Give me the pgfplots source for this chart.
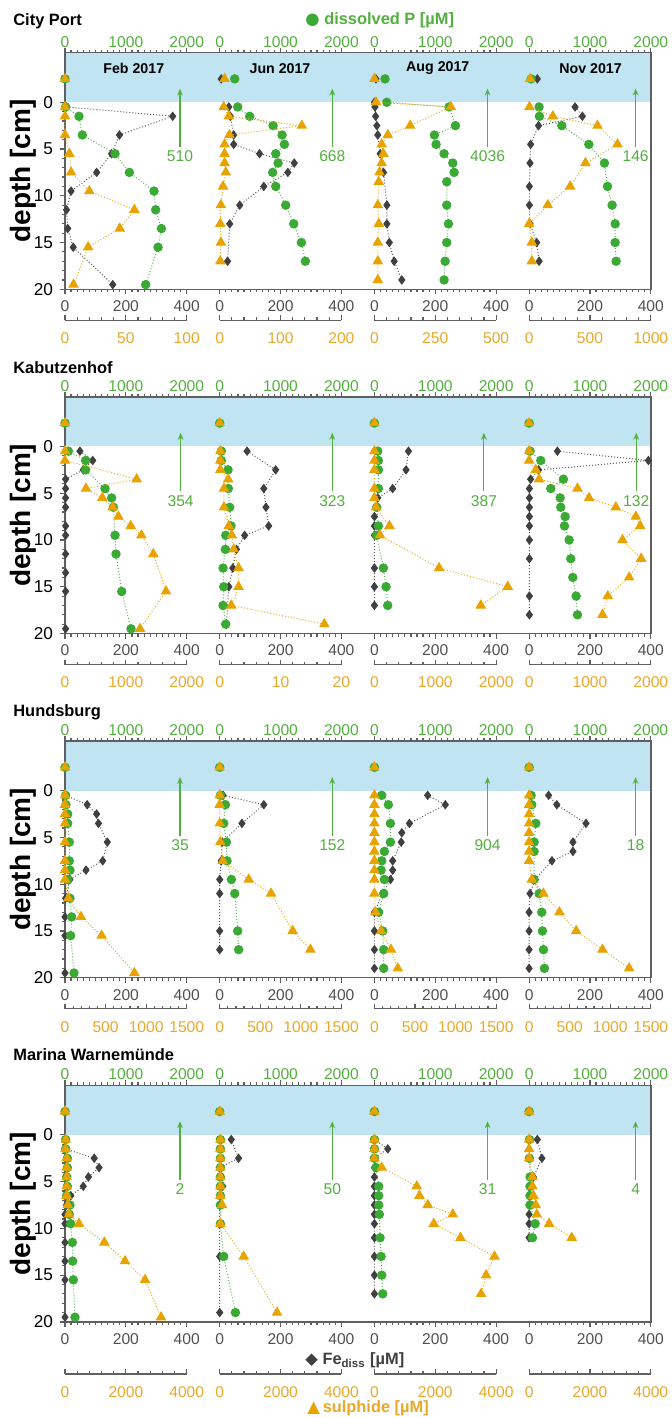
\documentclass[border=0pt]{standalone}
\usepackage{pgfplots}
\pgfplotsset{compat=1.18}
\usetikzlibrary{arrows.meta}
\usepackage{fontspec}
\setmainfont{Liberation Sans}
\newfontfamily\dejavu{DejaVu Sans}
\definecolor{pgreen}{RGB}{58,170,53}
\definecolor{gtext}{RGB}{82,176,62}
\definecolor{fegray}{RGB}{64,64,64}
\definecolor{sorange}{RGB}{232,163,0}
\definecolor{otext}{RGB}{232,168,40}
\definecolor{band}{RGB}{192,228,242}
\definecolor{axgray}{RGB}{95,95,95}
\definecolor{tgray}{RGB}{80,80,80}
\newcommand\tfont{\fontsize{7.8}{8}\selectfont}
\pgfplotsset{
 every axis/.append style={
   /pgf/number format/assume math mode=true,
   /pgf/number format/1000 sep={},
   scaled x ticks=false, scaled y ticks=false,
   major tick length=2.5pt, minor tick length=1.5pt,
   tick style={axgray, line width=0.6pt},
 },
 base/.style 2 args={at={({(65+154.7*#2)*0.5pt},{-(52.7+344.2*#1)*0.5pt})}, anchor=north west,
   scale only axis, width=60.85pt, height=118.3pt, ymin=-5.3, ymax=20, y dir=reverse,
   clip=false, axis y line=none, ytick=\empty},
 feax/.style 2 args={base={#1}{#2}, xmin=0, xmax=400, axis x line*=bottom, x axis line style={draw=none},
   xtick={0,200,400}, minor x tick num=9, tick align=outside,
   xticklabel style={font=\tfont, text=tgray, inner sep=0pt, yshift=-3pt}},
 pax/.style 2 args={base={#1}{#2}, xmin=0, xmax=2000, axis x line*=top, x axis line style={draw=none},
   xtick={0,1000,2000}, minor x tick num=9, tick align=outside,
   xticklabel style={font=\tfont, text=gtext, inner sep=0pt}},
 sax/.style n args={6}{base={#1}{#2}, xmin=0, xmax=#3, xtick={0,#4,...,#3}, minor x tick num=4,
   ymax=#5, height=#6, axis x line*=bottom, x axis line style={axgray, line width=0.7pt, -},
   tick align=inside, xticklabel style={font=\tfont, text=otext, inner sep=0pt, yshift=-6pt}},
 frame/.style={at={(32.5pt,{-(52.7+344.2*#1)*0.5pt})}, anchor=north west, scale only axis,
   width=293pt, height=118.3pt, xmin=0, xmax=1, ymin=-5.3, ymax=20, y dir=reverse,
   xtick=\empty, ytick={0,5,10,15,20}, minor y tick num=4, ytick pos=left, tick align=outside,
   axis on top, axis line style={axgray, line width=0.7pt},
   yticklabel style={font=\fontsize{8.6}{9}\selectfont, text=black}},
 festyle/.style={fegray!85, densely dotted, line width=0.5pt, mark=diamond*, mark size=2pt,
   mark options={solid, fill=fegray, draw=fegray}},
 pstyle/.style={pgreen!85, densely dotted, line width=0.5pt, mark=*, mark size=2.1pt,
   mark options={solid, fill=pgreen, draw=pgreen}},
 sstyle/.style={sorange!90, densely dotted, line width=0.5pt, mark=triangle*, mark size=2.6pt,
   mark options={solid, fill=sorange, draw=sorange}},
}
\tikzset{arr/.style={gtext, line width=0.55pt, -{Stealth[length=3.4pt, width=2.8pt]}},
  arrlab/.style={text=gtext, font=\tfont}}
\newcommand\arrowlab[2]{\draw[arr] (axis cs:#1,4.8) -- (axis cs:#1,-1.45); \node[arrlab] at (axis cs:#1,5.8) {#2};}
\newcommand\rowframe[1]{\begin{axis}[frame=#1]\fill[band] (axis cs:0,-5.3) rectangle (axis cs:1,0);\end{axis}}
\begin{document}
\begin{tikzpicture}
\useasboundingbox (0,0) rectangle (335.5pt,-709pt);
% ---------------- titles, legends
\node[anchor=west, inner sep=0pt, font=\bfseries\fontsize{8.2}{9}\selectfont] at (6.5pt,-10.5pt) {City Port};
\node[anchor=west, inner sep=0pt, font=\bfseries\fontsize{8.2}{9}\selectfont] at (6.5pt,-184pt) {Kabutzenhof};
\node[anchor=west, inner sep=0pt, font=\bfseries\fontsize{8.2}{9}\selectfont] at (6.5pt,-355.9pt) {Hundsburg};
\node[anchor=west, inner sep=0pt, font=\bfseries\fontsize{8.2}{9}\selectfont] at (6.5pt,-527.5pt) {Marina Warnemünde};
\node[anchor=west, inner sep=0pt, text=gtext, font=\bfseries\fontsize{8.2}{9}\selectfont] at (152.5pt,-10.25pt) {{\dejavu\color{pgreen}●} dissolved P [µM]};
\node[anchor=west, inner sep=0pt, text=fegray, font=\bfseries\fontsize{8.2}{9}\selectfont] at (152.5pt,-680pt) {{\dejavu ◆} Fe\textsubscript{diss} [µM]};
\node[anchor=west, inner sep=0pt, text=otext, font=\bfseries\fontsize{8.2}{9}\selectfont] at (153.5pt,-704pt) {{\dejavu\color{sorange}▲}\,sulphide [µM]};
\foreach \r in {0,1,2,3}{
  \node[rotate=90, font=\bfseries\fontsize{14}{14}\selectfont] at (11.5pt,{-(171+344.2*\r)*0.5pt}) {depth [cm]};
}
% ================= ROW 0 : City Port
\rowframe{0}
\node[font=\bfseries\fontsize{7.1}{8}\selectfont] at (66.9pt,-34.15pt) {Feb 2017};
\node[font=\bfseries\fontsize{7.1}{8}\selectfont] at (140pt,-34.15pt) {Jun 2017};
\node[font=\bfseries\fontsize{7.1}{8}\selectfont] at (218.9pt,-34.15pt) {Aug 2017};
\node[font=\bfseries\fontsize{7.1}{8}\selectfont] at (295.3pt,-34.15pt) {Nov 2017};
% Feb
\begin{axis}[feax={0}{0}]
\addplot[festyle] coordinates {(5,0.5) (354,1.5) (179,3.5) (153,5.5) (104,7.5) (20,9.5) (5,11.5) (9,13.5) (27,15.5) (157,19.5)};
\end{axis}
\begin{axis}[pax={0}{0}]
\addplot[pstyle] coordinates {(10,0.5) (230,1.5) (285,3.5) (822,5.5) (1058,7.5) (1463,9.5) (1490,11.5) (1584,13.5) (1529,15.5) (1326,19.5)};
\addplot[pstyle, only marks] coordinates {(0,-2.5)};
\arrowlab{1890}{510}
\end{axis}
\begin{axis}[sax={0}{0}{100}{50}{23.32}{133.8pt}]
\addplot[sstyle] coordinates {(0,0.5) (0,1.5) (0,3.5) (3.6,5.5) (5,7.5) (20,9.5) (57,11.5) (45,13.5) (19,15.5) (7,19.5)};
\addplot[sstyle, only marks] coordinates {(0,-2.5)};
\end{axis}
% Jun
\begin{axis}[feax={0}{1}]
\addplot[festyle] coordinates {(30,0.5) (35,1.5) (46,3.5) (46,4.5) (131,5.5) (245,6.5) (224,7.5) (145,9) (66,11) (33,13) (26,17)};
\addplot[festyle, only marks] coordinates {(5,-2.5)};
\end{axis}
\begin{axis}[pax={0}{1}]
\addplot[pstyle] coordinates {(296,0.5) (493,1.5) (877,2.5) (1025,3.5) (1063,4.5) (921,5.5) (959,6.5) (871,7.5) (921,9) (1085,11) (1217,13) (1343,15) (1408,17)};
\addplot[pstyle, only marks] coordinates {(247,-2.5)};
\arrowlab{1850}{668}
\end{axis}
\begin{axis}[sax={0}{1}{200}{100}{23.32}{133.8pt}]
\addplot[sstyle] coordinates {(6.6,0.5) (15,1.5) (135,2.5) (16,3.5) (8,4.5) (8,5.5) (8,6.5) (10,7.5) (5.5,9) (2,11) (1,13) (2,15) (1,17)};
\addplot[sstyle, only marks] coordinates {(8,-2.5)};
\end{axis}
% Aug
\begin{axis}[feax={0}{2}]
\addplot[festyle] coordinates {(0,0) (2,0.5) (4,1.5) (8,2.5) (11,3.5) (19,5.5) (30,7.5) (41,11) (41,13) (49,15) (65,17) (90,19)};
\addplot[festyle, only marks] coordinates {(5,-2.5)};
\end{axis}
\begin{axis}[pax={0}{2}]
\addplot[pstyle] coordinates {(203,0) (1227,0.5) (1332,2.5) (986,3.5) (1014,4.5) (1145,5.5) (1288,6.5) (1310,7.5) (1189,8.5) (1189,11) (1217,13) (1189,15) (1162,17) (1145,19)};
\addplot[pstyle, only marks] coordinates {(175,-2.5)};
\arrowlab{1860}{4036}
\end{axis}
\begin{axis}[sax={0}{2}{500}{250}{23.32}{133.8pt}]
\addplot[sstyle] coordinates {(7,0) (314,0.5) (147,2.5) (55,3.5) (30,4.5) (37,5.5) (30,6.5) (21,7.5) (18,8.5) (14,11) (18,13) (14,15) (14,17) (14,19)};
\addplot[sstyle, only marks] coordinates {(0,-2.5)};
\end{axis}
% Nov
\begin{axis}[feax={0}{3}]
\addplot[festyle] coordinates {(151,0.5) (175,1.5) (31,2.5) (5,4.5) (3,6.5) (1,9) (1,11) (3,13) (25,15) (33,17)};
\addplot[festyle, only marks] coordinates {(27,-2.5)};
\end{axis}
\begin{axis}[pax={0}{3}]
\addplot[pstyle] coordinates {(164,0.5) (170,1.5) (537,2.5) (981,4.5) (1238,6.5) (1288,9) (1364,11) (1414,13) (1414,15) (1430,17)};
\addplot[pstyle, only marks] coordinates {(33,-2.5)};
\arrowlab{1750}{146}
\end{axis}
\begin{axis}[sax={0}{3}{1000}{500}{23.32}{133.8pt}]
\addplot[sstyle] coordinates {(3,0.5) (195,1.5) (562,2.5) (726,4.5) (463,6.5) (337,9) (153,11) (0,13) (22,15) (22,17)};
\addplot[sstyle, only marks] coordinates {(8,-2.5)};
\end{axis}
% ================= ROW 1 : Kabutzenhof
\rowframe{1}
% Feb
\begin{axis}[feax={1}{0}]
\addplot[festyle] coordinates {(49,0.5) (91,1.5) (60,2.5) (2,3.5) (2,4.5) (2,5.5) (2,6.5) (2,8.5) (2,9.5) (2,11.5) (2,13.5) (2,15.5) (2,19.5)};
\end{axis}
\begin{axis}[pax={1}{0}]
\addplot[pstyle] coordinates {(55,0.5) (340,1.5) (340,2.5) (658,4.5) (767,5.5) (795,6.5) (822,9.5) (838,11.5) (932,15.5) (1085,19.5)};
\addplot[pstyle, only marks] coordinates {(0,-2.5)};
\arrowlab{1900}{354}
\end{axis}
\begin{axis}[sax={1}{0}{2000}{1000}{23.32}{133.8pt}]
\addplot[sstyle] coordinates {(0,0.5) (0,1.5) (1178,3.5) (345,4.5) (614,5.5) (784,6.5) (877,7.5) (1080,8.5) (1255,9.5) (1452,11.5) (1660,15.5) (1233,19.5)};
\addplot[sstyle, only marks] coordinates {(0,-2.5)};
\end{axis}
% Jun
\begin{axis}[feax={1}{1}]
\addplot[festyle] coordinates {(90,0.5) (184,2.5) (145,4.5) (152,6.5) (161,8.5) (82,9.5) (55,11) (43,13) (30,15) (22,19)};
\end{axis}
\begin{axis}[pax={1}{1}]
\addplot[pstyle] coordinates {(27,0.5) (27,1.5) (137,2.5) (142,4.5) (164,6.5) (186,8.5) (99,9.5) (93,11) (55,13) (66,15) (55,17) (99,19)};
\addplot[pstyle, only marks] coordinates {(0,-2.5)};
\arrowlab{1850}{323}
\end{axis}
\begin{axis}[sax={1}{1}{20}{10}{23.32}{133.8pt}]
\addplot[sstyle] coordinates {(0.1,0.5) (0.1,1.5) (0.1,2.5) (1.4,3.5) (0.7,4.5) (0.7,6.5) (1.5,8.5) (2.0,9.5) (2.3,11) (3.1,13) (3.1,15) (1.9,17) (17.2,19)};
\addplot[sstyle, only marks] coordinates {(0,-2.5)};
\end{axis}
% Aug
\begin{axis}[feax={1}{2}]
\addplot[festyle] coordinates {(112,0.5) (104,2.5) (60,4.5) (11,5.5) (0,7.5) (0,8.5) (0,9.5) (0,13) (0,15) (0,17)};
\end{axis}
\begin{axis}[pax={1}{2}]
\addplot[pstyle] coordinates {(55,0.5) (66,1.5) (66,2.5) (66,4.5) (38,6.5) (66,8.5) (38,9.5) (148,13) (192,15) (219,17)};
\addplot[pstyle, only marks] coordinates {(0,-2.5)};
\arrowlab{1800}{387}
\end{axis}
\begin{axis}[sax={1}{2}{2000}{1000}{23.32}{133.8pt}]
\addplot[sstyle] coordinates {(0,0.5) (0,1.5) (0,2.5) (0,4.5) (0,5.5) (27,6.5) (247,8.5) (93,9.5) (1063,13) (2192,15) (1748,17)};
\addplot[sstyle, only marks] coordinates {(0,-2.5)};
\end{axis}
% Nov
\begin{axis}[feax={1}{3}]
\addplot[festyle] coordinates {(93,0.5) (392,1.5) (31,2.5) (5,3.5) (1,4.5) (1,5.5) (1,6.5) (1,7.5) (1,8.5) (1,10) (1,12) (1,16) (1,18)};
\end{axis}
\begin{axis}[pax={1}{3}]
\addplot[pstyle] coordinates {(16,0.5) (192,1.5) (564,3.5) (356,4.5) (510,5.5) (520,6.5) (592,7.5) (581,8.5) (658,10) (685,12) (718,14) (773,16) (795,18)};
\addplot[pstyle, only marks] coordinates {(0,-2.5)};
\arrowlab{1760}{132}
\end{axis}
\begin{axis}[sax={1}{3}{2000}{1000}{23.32}{133.8pt}]
\addplot[sstyle] coordinates {(0,0.5) (0,1.5) (110,2.5) (164,3.5) (795,4.5) (986,5.5) (1425,6.5) (1753,7.5) (1825,8.5) (1534,10) (1841,12) (1644,14) (1293,16) (1206,18)};
\addplot[sstyle, only marks] coordinates {(0,-2.5)};
\end{axis}
% ================= ROW 2 : Hundsburg
\rowframe{2}
% Feb
\begin{axis}[feax={2}{0}]
\addplot[festyle] coordinates {(2,0.5) (73,1.5) (104,2.5) (110,3.5) (139,5.5) (124,7.5) (69,8.5) (16,9.5) (2,11.5) (0,13.5) (0,15.5) (0,19.5)};
\end{axis}
\begin{axis}[pax={2}{0}]
\addplot[pstyle] coordinates {(11,0.5) (16,1.5) (44,2.5) (44,3.5) (71,5.5) (71,7.5) (82,8.5) (44,9.5) (82,11.5) (110,13.5) (93,15.5) (148,19.5)};
\addplot[pstyle, only marks] coordinates {(0,-2.5)};
\arrowlab{1890}{35}
\end{axis}
\begin{axis}[sax={2}{0}{1500}{500}{23.32}{133.8pt}]
\addplot[sstyle] coordinates {(0,0.5) (0,1.5) (0,2.5) (0,3.5) (0,5.5) (0,7.5) (0,8.5) (0,9.5) (41,11.5) (197,13.5) (452,15.5) (855,19.5)};
\addplot[sstyle, only marks] coordinates {(0,-2.5)};
\end{axis}
% Jun
\begin{axis}[feax={2}{1}]
\addplot[festyle] coordinates {(11,0.5) (145,1.5) (73,3.5) (8,5.5) (5,7.5) (0,9.5) (0,11) (0,15) (0,17)};
\end{axis}
\begin{axis}[pax={2}{1}]
\addplot[pstyle] coordinates {(11,0.5) (93,1.5) (66,3.5) (110,5.5) (121,7.5) (192,9.5) (247,11) (296,15) (312,17)};
\addplot[pstyle, only marks] coordinates {(0,-2.5)};
\arrowlab{1850}{152}
\end{axis}
\begin{axis}[sax={2}{1}{1500}{500}{23.32}{133.8pt}]
\addplot[sstyle] coordinates {(0,0.5) (0,1.5) (0,3.5) (8,5.5) (37,7.5) (358,9.5) (633,11) (900,15) (1118,17)};
\addplot[sstyle, only marks] coordinates {(0,-2.5)};
\end{axis}
% Aug
\begin{axis}[feax={2}{2}]
\addplot[festyle] coordinates {(175,0.5) (233,1.5) (115,3.5) (90,4.5) (88,5.5) (60,7.5) (60,8.5) (53,9.5) (27,11) (0,13) (0,15) (0,17) (0,19)};
\addplot[festyle, only marks] coordinates {(0,-2.5)};
\end{axis}
\begin{axis}[pax={2}{2}]
\addplot[pstyle] coordinates {(121,0.5) (230,1.5) (263,3.5) (263,5.5) (164,6.5) (121,7.5) (110,8.5) (164,9.5) (153,11) (71,13) (137,15) (153,17) (153,19)};
\addplot[pstyle, only marks] coordinates {(0,-2.5)};
\arrowlab{1860}{904}
\end{axis}
\begin{axis}[sax={2}{2}{1500}{500}{23.32}{133.8pt}]
\addplot[sstyle] coordinates {(0,0.5) (0,1.5) (0,2.5) (0,3.5) (0,4.5) (0,5.5) (0,6.5) (0,7.5) (0,8.5) (0,9.5) (0,11) (12,13) (82,15) (205,17) (288,19)};
\addplot[sstyle, only marks] coordinates {(0,-2.5)};
\end{axis}
% Nov
\begin{axis}[feax={2}{3}]
\addplot[festyle] coordinates {(64,0.5) (91,1.5) (187,3.5) (144,5.5) (144,6.5) (75,7.5) (20,9.5) (3,11) (0,13) (0,15) (0,17) (0,19)};
\addplot[festyle, only marks] coordinates {(0,-2.5)};
\end{axis}
\begin{axis}[pax={2}{3}]
\addplot[pstyle] coordinates {(33,0.5) (44,1.5) (110,3.5) (82,5.5) (82,6.5) (82,9.5) (164,11) (208,13) (219,15) (236,17) (252,19)};
\addplot[pstyle, only marks] coordinates {(0,-2.5)};
\arrowlab{1750}{18}
\end{axis}
\begin{axis}[sax={2}{3}{1500}{500}{23.32}{133.8pt}]
\addplot[sstyle] coordinates {(0,0.5) (0,1.5) (0,2.5) (0,3.5) (0,4.5) (0,5.5) (0,6.5) (0,7.5) (33,9.5) (177,11) (374,13) (580,15) (904,17) (1233,19)};
\addplot[sstyle, only marks] coordinates {(0,-2.5)};
\end{axis}
% ================= ROW 3 : Marina Warnemuende
\rowframe{3}
% Feb
\begin{axis}[feax={3}{0}]
\addplot[festyle] coordinates {(2,0.5) (2,1.5) (96,2.5) (112,3.5) (77,4.5) (60,5.5) (19,6.5) (5,7.5) (0,8.5) (0,9.5) (0,11.5) (0,13.5) (0,15.5) (0,19.5)};
\end{axis}
\begin{axis}[pax={3}{0}]
\addplot[pstyle] coordinates {(11,0.5) (11,1.5) (38,2.5) (38,3.5) (27,4.5) (38,5.5) (27,6.5) (82,7.5) (71,8.5) (93,9.5) (121,11.5) (126,13.5) (137,15.5) (164,19.5)};
\addplot[pstyle, only marks] coordinates {(0,-2.5)};
\arrowlab{1890}{2}
\end{axis}
\begin{axis}[sax={3}{0}{4000}{2000}{25.56}{144.3pt}]
\addplot[sstyle] coordinates {(22,0.5) (22,1.5) (55,2.5) (55,3.5) (55,4.5) (55,5.5) (55,6.5) (88,7.5) (130,8.5) (460,9.5) (1293,11.5) (1973,13.5) (2630,15.5) (3156,19.5)};
\addplot[sstyle, only marks] coordinates {(0,-2.5)};
\end{axis}
% Jun
\begin{axis}[feax={3}{1}]
\addplot[festyle] coordinates {(38,0.5) (62,2.5) (0,3.5) (2,4.5) (10,5.5) (2,6.5) (0,7.5) (0,9.5) (0,13) (0,19)};
\end{axis}
\begin{axis}[pax={3}{1}]
\addplot[pstyle] coordinates {(11,0.5) (11,1.5) (11,2.5) (11,3.5) (11,4.5) (11,5.5) (11,6.5) (11,7.5) (11,9.5) (66,13) (258,19)};
\addplot[pstyle, only marks] coordinates {(0,-2.5)};
\arrowlab{1850}{50}
\end{axis}
\begin{axis}[sax={3}{1}{4000}{2000}{25.56}{144.3pt}]
\addplot[sstyle] coordinates {(22,0.5) (22,1.5) (22,2.5) (22,3.5) (22,4.5) (22,5.5) (22,6.5) (77,7.5) (22,9.5) (789,13) (1885,19)};
\addplot[sstyle, only marks] coordinates {(0,-2.5)};
\end{axis}
% Aug
\begin{axis}[feax={3}{2}]
\addplot[festyle] coordinates {(0,0.5) (44,1.5) (0,2.5) (0,3.5) (0,4.5) (0,5.5) (0,6.5) (0,7.5) (0,8.5) (0,9.5) (0,11) (0,13) (0,15) (0,17)};
\addplot[festyle, only marks] coordinates {(0,-2.5)};
\end{axis}
\begin{axis}[pax={3}{2}]
\addplot[pstyle] coordinates {(0,0.5) (0,1.5) (0,2.5) (27,3.5) (71,5.5) (71,6.5) (71,7.5) (82,8.5) (93,11) (110,13) (121,15) (137,17)};
\addplot[pstyle, only marks] coordinates {(0,-2.5)};
\arrowlab{1860}{31}
\end{axis}
\begin{axis}[sax={3}{2}{4000}{2000}{25.56}{144.3pt}]
\addplot[sstyle] coordinates {(0,0.5) (0,1.5) (0,2.5) (241,3.5) (1392,5.5) (1480,6.5) (1754,7.5) (2576,8.5) (1951,9.5) (2828,11) (3946,13) (3671,15) (3507,17)};
\addplot[sstyle, only marks] coordinates {(0,-2.5)};
\end{axis}
% Nov
\begin{axis}[feax={3}{3}]
\addplot[festyle] coordinates {(27,0.5) (42,2.5) (14,4.5) (0,5.5) (0,6.5) (0,7.5) (0,8.5) (0,9.5) (0,11)};
\addplot[festyle, only marks] coordinates {(0,-2.5)};
\end{axis}
\begin{axis}[pax={3}{3}]
\addplot[pstyle] coordinates {(5,0.5) (5,2.5) (16,4.5) (16,5.5) (16,6.5) (16,7.5) (99,9.5) (55,11)};
\addplot[pstyle, only marks] coordinates {(0,-2.5)};
\arrowlab{1750}{4}
\end{axis}
\begin{axis}[sax={3}{3}{4000}{2000}{25.56}{144.3pt}]
\addplot[sstyle] coordinates {(0,0.5) (0,1.5) (0,2.5) (110,4.5) (110,5.5) (142,6.5) (219,7.5) (252,8.5) (658,9.5) (1403,11)};
\addplot[sstyle, only marks] coordinates {(0,-2.5)};
\end{axis}
\end{tikzpicture}
\end{document}
